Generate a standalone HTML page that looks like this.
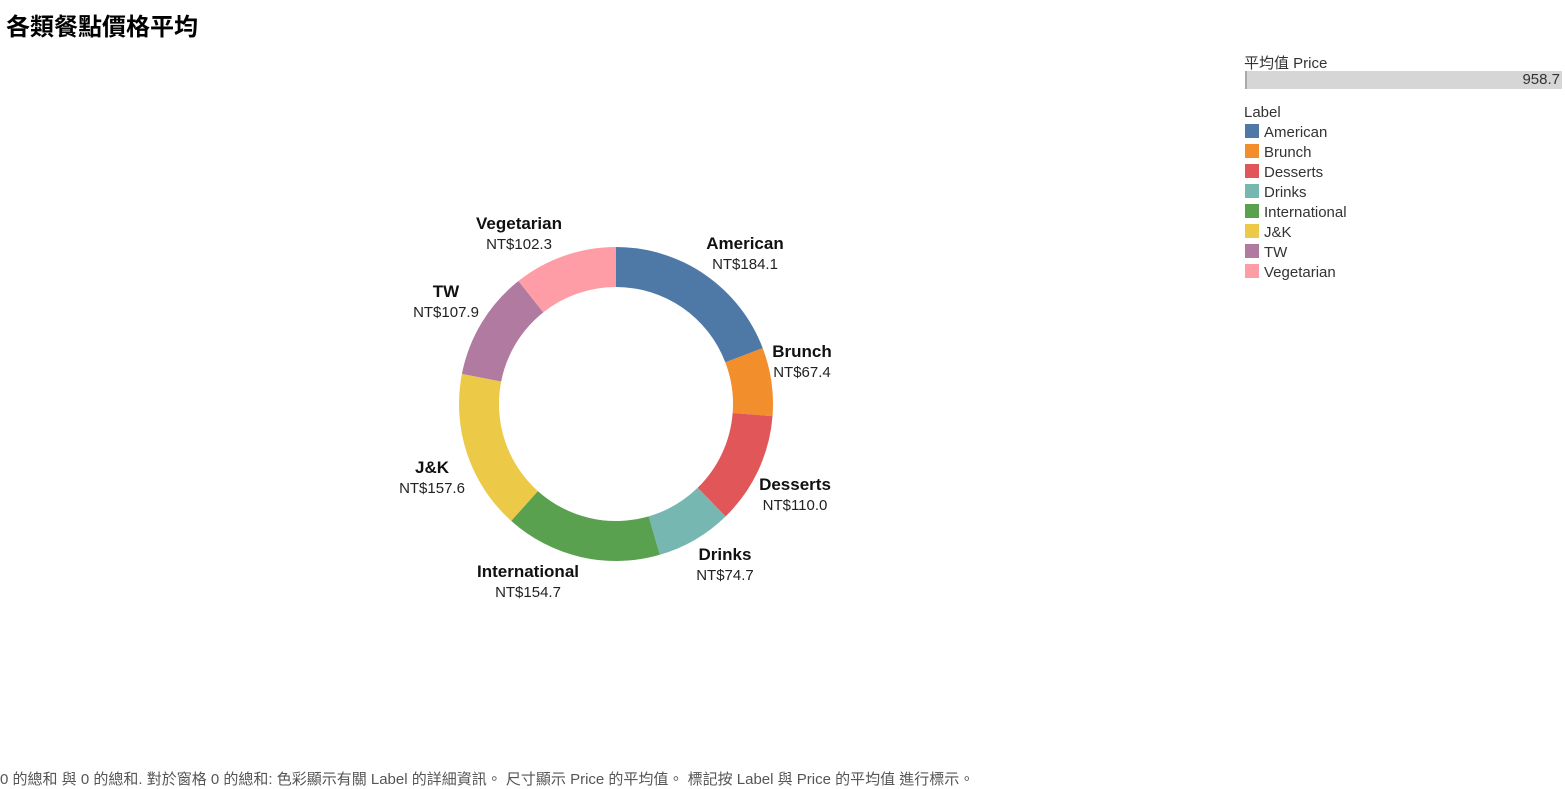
<!DOCTYPE html>
<html><head><meta charset="utf-8">
<style>
body{margin:0;width:1565px;height:788px;background:#fff;font-family:"Liberation Sans","Noto Sans CJK TC",sans-serif;overflow:hidden;position:relative}
#title{position:absolute;left:6px;top:7px;font-size:24px;font-weight:bold;color:#000}
#footer{position:absolute;left:0;top:768px;font-size:15px;color:#555;white-space:nowrap}
.leg{position:absolute;left:1244px;font-size:15px;color:#333}
.sw{position:absolute;left:1245px;width:14px;height:14px}
</style></head><body>
<div id="title">各類餐點價格平均</div>
<div class="leg" style="top:52px">平均值 Price</div>
<div style="position:absolute;left:1245px;top:71px;width:315px;height:18px;background:#d6d6d6;border-left:2px solid #aaa"></div>
<div class="leg" style="top:71px;left:1500px;width:60px;text-align:right">958.7</div>
<div class="leg" style="top:104px">Label</div>
<div id="legend"></div>
<svg id="chart" width="1565" height="788" style="position:absolute;left:0;top:0"></svg>
<div id="footer">0 的總和 與 0 的總和. 對於窗格 0 的總和: 色彩顯示有關 Label 的詳細資訊。 尺寸顯示 Price 的平均值。 標記按 Label 與 Price 的平均值 進行標示。</div>
<script>
const categories=["American","Brunch","Desserts","Drinks","International","J&K","TW","Vegetarian"];
const values=[184.1,67.4,110.0,74.7,154.7,157.6,107.9,102.3];
const colors=["#4e79a7","#f28e2b","#e15759","#76b7b2","#59a14f","#edc948","#b07aa1","#ff9da7"];
const labelPos=[[745,243],[802,351],[795,484],[725,554],[528,571],[432,467],[446,291],[519,223]];
const NS="http://www.w3.org/2000/svg";
const svg=document.getElementById('chart');
const cx=616,cy=404,R=157,r=117;
const total=values.reduce((a,b)=>a+b,0);
function pt(a,rad){return [cx+rad*Math.sin(a),cy-rad*Math.cos(a)];}
let acc=0;
values.forEach((v,i)=>{
  const a0=acc/total*2*Math.PI; acc+=v; const a1=acc/total*2*Math.PI;
  const lg=(a1-a0)>Math.PI?1:0;
  const p0=pt(a0,R),p1=pt(a1,R),q1=pt(a1,r),q0=pt(a0,r);
  const p=document.createElementNS(NS,'path');
  p.setAttribute('d',`M${p0[0]},${p0[1]}A${R},${R} 0 ${lg} 1 ${p1[0]},${p1[1]}L${q1[0]},${q1[1]}A${r},${r} 0 ${lg} 0 ${q0[0]},${q0[1]}Z`);
  p.setAttribute('fill',colors[i]);
  
  
  svg.appendChild(p);
  const [lx,ly]=labelPos[i];
  const t1=document.createElementNS(NS,'text');
  t1.setAttribute('x',lx);t1.setAttribute('y',ly+6);t1.setAttribute('text-anchor','middle');
  t1.setAttribute('font-size','17');t1.setAttribute('font-weight','bold');t1.setAttribute('fill','#111');
  t1.textContent=categories[i];
  
  
  svg.appendChild(t1);
  const t2=document.createElementNS(NS,'text');
  t2.setAttribute('x',lx);t2.setAttribute('y',ly+26);t2.setAttribute('text-anchor','middle');
  t2.setAttribute('font-size','15');t2.setAttribute('fill','#222');
  t2.textContent='NT$'+v.toFixed(1);
  
  
  svg.appendChild(t2);
});
const leg=document.getElementById('legend');
categories.forEach((c,i)=>{
  const s=document.createElement('div');s.className='sw';s.style.top=(124+i*20)+'px';s.style.background=colors[i];
  
  
  leg.appendChild(s);
  const t=document.createElement('div');t.className='leg';t.style.left='1264px';t.style.top=(124+i*20)+'px';t.textContent=c;
  
  
  leg.appendChild(t);
});
</script>
</body></html>
